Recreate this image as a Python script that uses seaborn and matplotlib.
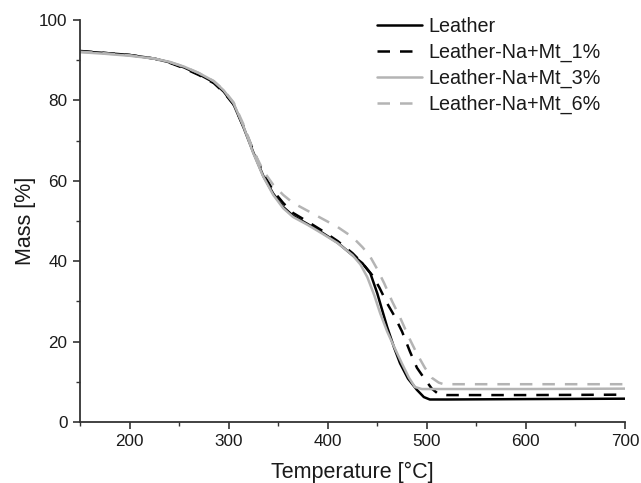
import matplotlib
matplotlib.use("Agg")
import matplotlib.pyplot as plt
from matplotlib.ticker import MultipleLocator
import seaborn as sns
import pandas as pd

# Data
t_leather = [150, 175, 200, 225, 240, 255, 270, 285, 295, 305, 315, 325, 335, 345, 355, 365, 380, 395, 410, 425, 435,
             443, 450, 460, 467, 473, 481, 490, 497, 503, 520, 600, 700]
m_leather = [92.2, 91.8, 91.3, 90.4, 89.5, 88.2, 86.5, 84.5, 82.2, 79.0, 73.3, 67.0, 61.2, 56.8, 53.5, 51.3, 49.2, 47.0, 44.6, 41.5, 39.5,
             37.0, 32.0, 23.6, 18.5, 14.6, 10.8, 8.0, 6.2, 5.6, 5.6, 5.7, 5.8]

t_1 = [150, 175, 200, 225, 240, 255, 270, 285, 295, 305, 315, 325, 335, 345, 355, 365, 380, 395, 410, 425, 435,
       445, 452, 460, 467, 475, 483, 490, 497, 505, 512, 520, 600, 700]
m_1 = [92.3, 91.8, 91.3, 90.4, 89.4, 88.0, 86.3, 84.3, 82.0, 79.0, 73.5, 67.5, 61.8, 57.5, 54.5, 52.0, 49.8, 47.5, 45.0, 42.0, 39.5,
       36.5, 33.5, 29.5, 26.5, 22.5, 17.5, 13.5, 11.0, 8.3, 6.9, 6.7, 6.7, 6.8]

t_3 = [150, 175, 200, 225, 240, 255, 270, 285, 295, 305, 315, 325, 335, 345, 355, 365, 380, 395, 410, 425, 433,
       440, 447, 453, 460, 467, 475, 482, 488, 495, 600, 700]
m_3 = [92.0, 91.6, 91.1, 90.4, 89.6, 88.4, 86.8, 84.8, 82.5, 79.3, 73.5, 66.8, 61.0, 56.5, 53.2, 51.0, 49.0, 46.8, 44.5, 41.5, 39.2,
       36.0, 31.5, 27.0, 22.5, 18.7, 14.5, 11.0, 8.7, 8.2, 8.2, 8.3]

t_6 = [150, 175, 200, 225, 240, 255, 270, 285, 295, 305, 315, 325, 335, 345, 355, 365, 380, 395, 410, 425, 435,
       442, 450, 457, 465, 473, 482, 490, 498, 505, 512, 517, 600, 700]
m_6 = [92.1, 91.7, 91.2, 90.4, 89.6, 88.4, 86.8, 84.8, 82.6, 79.5, 74.0, 67.5, 62.5, 59.0, 56.5, 54.5, 52.5, 50.5, 48.5, 46.0, 43.5,
       41.5, 38.0, 34.5, 30.0, 26.0, 21.0, 17.0, 13.5, 11.0, 9.8, 9.4, 9.4, 9.4]

labels = ["Leather", "Leather-Na+Mt_1%", "Leather-Na+Mt_3%", "Leather-Na+Mt_6%"]
x_ticks = [200, 300, 400, 500, 600, 700]
y_ticks = [0, 20, 40, 60, 80, 100]

sns.set_style("ticks")
plt.rcParams["font.family"] = ["Liberation Sans", "DejaVu Sans"]

fig = plt.figure(figsize=(6.41, 4.83), dpi=100)
ax = fig.add_axes([80 / 641, 61 / 483, 545 / 641, 402 / 483])

series = [(t_leather, m_leather), (t_1, m_1), (t_3, m_3), (t_6, m_6)]
colors = ["black", "black", "#b4b4b4", "#b4b4b4"]
dashed = [False, True, False, True]
for (t, m), lab, c, d in zip(series, labels, colors, dashed):
    df = pd.DataFrame({"T": t, "M": m})
    sns.lineplot(data=df, x="T", y="M", ax=ax, estimator=None, sort=False,
                 color=c, lw=1.8, label=lab)
    if d:
        ax.lines[-1].set_dashes([5, 4])

ax.set_xlim(150, 700)
ax.set_ylim(0, 100)
ax.set_xticks(x_ticks)
ax.set_yticks(y_ticks)
ax.xaxis.set_minor_locator(MultipleLocator(50))
ax.yaxis.set_minor_locator(MultipleLocator(10))
ax.tick_params(axis="both", which="major", length=5, width=1.2, color="#333333", labelsize=12.3,
               labelcolor="#1a1a1a", direction="out", pad=4)
ax.tick_params(axis="both", which="minor", length=3, width=1.0, color="#333333", direction="out")
for s in ["left", "bottom"]:
    ax.spines[s].set_linewidth(1.3)
    ax.spines[s].set_color("#333333")
sns.despine(ax=ax)

ax.set_xlabel("Temperature [°C]", fontsize=15.5, color="#1a1a1a", labelpad=9)
ax.set_ylabel("Mass [%]", fontsize=15.5, color="#1a1a1a", labelpad=2.5)

leg = ax.legend(loc="upper left", bbox_to_anchor=(0.545, 1.008), frameon=False, fontsize=14.2,
                handlelength=2.3, handletextpad=0.3, labelspacing=0.35, borderpad=0, borderaxespad=0)
for t in leg.get_texts():
    t.set_color("#1a1a1a")

fig.savefig("out.png", dpi=100)
